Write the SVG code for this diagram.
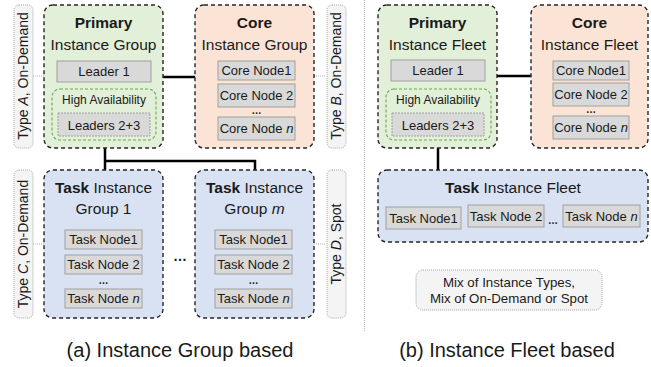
<svg xmlns="http://www.w3.org/2000/svg" width="651" height="367" viewBox="0 0 651 367">
<style>
text{font-family:"Liberation Sans",Arial,sans-serif;fill:#1a1a1a}
.t{font-size:15.5px;text-anchor:middle}
.b{font-weight:bold}
.i{font-style:italic}
.n{font-size:13px;text-anchor:middle}
.m{font-size:13.3px;text-anchor:middle}
.ha-t{font-size:12px;text-anchor:middle}
.s{font-size:14px;text-anchor:middle}
.cap{font-size:20px;text-anchor:middle}
.el{font-size:10px;text-anchor:middle;font-weight:bold}
.grp{stroke:#262626;stroke-width:1.4;stroke-dasharray:4 3}
.green{fill:#e2efd9}
.peach{fill:#fbe4d5}
.blue{fill:#d9e2f3}
.node{fill:#d9d9d9;stroke:#a0a0a0;stroke-width:1}
.dnode{fill:#d9d9d9;stroke:#a0a0a0;stroke-width:1;stroke-dasharray:2 1}
.side{fill:#f4f4f4;stroke:#a6a6a6;stroke-width:1;stroke-dasharray:1 1}
.ha{fill:none;stroke:#6aa84f;stroke-width:1.1;stroke-dasharray:3 2}
.dot{stroke:#b0b0b0;stroke-width:1;stroke-dasharray:1 1;fill:none}
.link{stroke:#000;stroke-width:2.5;fill:none}
</style>

<g id="connectors">
  <line class="dot" x1="33" y1="76" x2="44" y2="76"/>
  <line class="dot" x1="314" y1="76" x2="326" y2="76"/>
  <line class="dot" x1="33" y1="244" x2="44" y2="244"/>
  <line class="dot" x1="314" y1="244" x2="326" y2="244"/>
  <line class="dot" x1="364.5" y1="0" x2="364.5" y2="332"/>
  <line class="link" x1="163" y1="77" x2="195" y2="77"/>
  <polyline class="link" points="105,148 105,170"/>
  <polyline class="link" points="105,161 255,161 255,170"/>
  <line class="link" x1="497" y1="76" x2="531" y2="76"/>
  <line class="link" x1="438" y1="148" x2="438" y2="170"/>
</g>

<g id="typeA">
  <rect class="side" x="14" y="5" width="19" height="143" rx="5"/>
  <text class="s" x="23.5" y="76" dy="0.35em" transform="rotate(-90 23.5 76)">Type <tspan class="i">A</tspan>, On-Demand</text>
</g>
<g id="typeB">
  <rect class="side" x="327" y="5" width="19" height="143" rx="5"/>
  <text class="s" x="336.5" y="76" dy="0.35em" transform="rotate(-90 336.5 76)">Type <tspan class="i">B</tspan>, On-Demand</text>
</g>
<g id="typeC">
  <rect class="side" x="14" y="170" width="19" height="148" rx="5"/>
  <text class="s" x="23.5" y="244" dy="0.35em" transform="rotate(-90 23.5 244)">Type <tspan class="i">C</tspan>, On-Demand</text>
</g>
<g id="typeD">
  <rect class="side" x="327" y="170" width="19" height="148" rx="5"/>
  <text class="s" x="336.5" y="244" dy="0.35em" transform="rotate(-90 336.5 244)">Type <tspan class="i">D</tspan>, Spot</text>
</g>

<g id="primaryGroup">
  <rect class="grp green" x="44" y="5" width="119" height="143" rx="9"/>
  <text class="t b" x="103.5" y="28">Primary</text>
  <text class="t" x="103.5" y="50">Instance Group</text>
  <rect class="node" x="57" y="61" width="94" height="21"/>
  <text class="n" x="104" y="76">Leader 1</text>
  <rect class="ha" x="52" y="89" width="104" height="51" rx="8"/>
  <text class="ha-t" x="104" y="104">High Availability</text>
  <rect class="dnode" x="58" y="113" width="92" height="23"/>
  <text class="n" x="104" y="129.5">Leaders 2+3</text>
</g>

<g id="coreGroup">
  <rect class="grp peach" x="195" y="5" width="119" height="143" rx="9"/>
  <text class="t b" x="254.5" y="28">Core</text>
  <text class="t" x="254.5" y="50">Instance Group</text>
  <rect class="node" x="218" y="61" width="77" height="19"/>
  <text class="n" x="256.5" y="75">Core Node1</text>
  <rect class="node" x="218" y="84" width="77" height="23"/>
  <text class="n" x="256.5" y="100">Core Node 2</text>
  <text class="el" x="256.5" y="114">…</text>
  <rect class="node" x="218" y="117" width="77" height="23"/>
  <text class="n" x="256.5" y="133">Core Node <tspan class="i">n</tspan></text>
</g>

<g id="taskGroup1">
  <rect class="grp blue" x="44" y="170" width="119" height="148" rx="9"/>
  <text class="t" x="103.5" y="193"><tspan class="b">Task</tspan> Instance</text>
  <text class="t" x="103.5" y="214">Group 1</text>
  <rect class="node" x="65" y="230" width="77" height="19"/>
  <text class="n" x="103.5" y="244">Task Node1</text>
  <rect class="node" x="65" y="255" width="77" height="19"/>
  <text class="n" x="103.5" y="269">Task Node 2</text>
  <text class="el" x="103.5" y="284">…</text>
  <rect class="node" x="65" y="289" width="77" height="19"/>
  <text class="n" x="103.5" y="303">Task Node <tspan class="i">n</tspan></text>
</g>

<g id="ellipsisGroups">
  <text x="180" y="261" style="font-size:14px;font-weight:bold;text-anchor:middle">…</text>
</g>

<g id="taskGroupM">
  <rect class="grp blue" x="195" y="170" width="119" height="148" rx="9"/>
  <text class="t" x="254.5" y="193"><tspan class="b">Task</tspan> Instance</text>
  <text class="t" x="254.5" y="214">Group <tspan class="i">m</tspan></text>
  <rect class="node" x="215" y="230" width="77" height="19"/>
  <text class="n" x="253.5" y="244">Task Node1</text>
  <rect class="node" x="215" y="255" width="77" height="19"/>
  <text class="n" x="253.5" y="269">Task Node 2</text>
  <text class="el" x="253.5" y="284">…</text>
  <rect class="node" x="215" y="289" width="77" height="19"/>
  <text class="n" x="253.5" y="303">Task Node <tspan class="i">n</tspan></text>
</g>

<g id="primaryFleet">
  <rect class="grp green" x="378" y="5" width="119" height="143" rx="9"/>
  <text class="t b" x="437.5" y="28">Primary</text>
  <text class="t" x="437.5" y="50">Instance Fleet</text>
  <rect class="node" x="391" y="60" width="94" height="21"/>
  <text class="n" x="438" y="75">Leader 1</text>
  <rect class="ha" x="386" y="89" width="105" height="51" rx="8"/>
  <text class="ha-t" x="438" y="104">High Availability</text>
  <rect class="dnode" x="392" y="113" width="92" height="23"/>
  <text class="n" x="438" y="129.5">Leaders 2+3</text>
</g>

<g id="coreFleet">
  <rect class="grp peach" x="531" y="5" width="117" height="143" rx="9"/>
  <text class="t b" x="589.5" y="28">Core</text>
  <text class="t" x="589.5" y="50">Instance Fleet</text>
  <rect class="node" x="553" y="61" width="76" height="19"/>
  <text class="n" x="591" y="75">Core Node1</text>
  <rect class="node" x="553" y="83" width="76" height="23"/>
  <text class="n" x="591" y="99">Core Node 2</text>
  <text class="el" x="591" y="113">…</text>
  <rect class="node" x="553" y="116" width="76" height="23"/>
  <text class="n" x="591" y="132">Core Node <tspan class="i">n</tspan></text>
</g>

<g id="taskFleet">
  <rect class="grp blue" x="378" y="170" width="270" height="72" rx="9"/>
  <text class="t" x="513" y="193"><tspan class="b">Task</tspan> Instance Fleet</text>
  <rect class="node" x="386" y="207" width="75" height="22"/>
  <text class="n" x="423.5" y="222.5">Task Node1</text>
  <rect class="node" x="468" y="205" width="76" height="22"/>
  <text class="n" x="506" y="220.5">Task Node 2</text>
  <text class="el" x="553" y="224">…</text>
  <rect class="node" x="563" y="205" width="77" height="22"/>
  <text class="n" x="601.5" y="220.5">Task Node <tspan class="i">n</tspan></text>
</g>

<g id="mixNote">
  <rect class="side" x="416" y="270" width="186" height="40" rx="7"/>
  <text class="m" x="509" y="287">Mix of Instance Types,</text>
  <text class="m" x="509" y="303">Mix of On-Demand or Spot</text>
</g>

<g id="captions">
  <text class="cap" x="180" y="357">(a) Instance Group based</text>
  <text class="cap" x="507" y="357">(b) Instance Fleet based</text>
</g>
</svg>
